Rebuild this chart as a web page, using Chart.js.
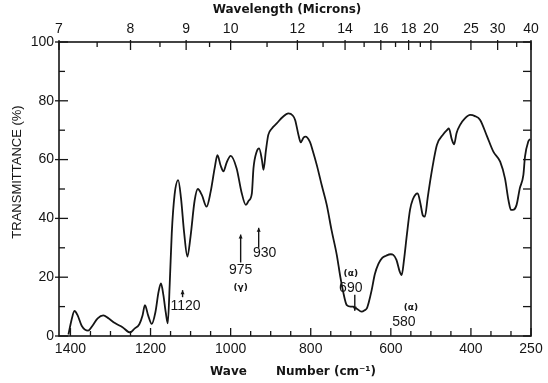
<!DOCTYPE html>
<html lang="en">
  <head>
    <meta charset="utf-8" />
    <title>IR Transmittance Spectrum</title>
    <script src="https://cdn.jsdelivr.net/npm/chart.js@4.4.1/dist/chart.umd.min.js"></script>
    <style>
      * {
        padding: 0;
        margin: 0;
        box-sizing: border-box;
      }
      body {
        background: #ffffff;
        width: 548px;
        height: 383px;
        overflow: hidden;
      }
    </style>
  </head>
  <body>
    <canvas id="spectrum" width="548" height="383"></canvas>

    <script>
      // trace: wave number (cm-1) against transmittance (%)
      const waveNumbers = [
        1405, 1398, 1390, 1382, 1372, 1356, 1345, 1332, 1318, 1305,
        1289, 1270, 1251, 1240, 1228, 1220, 1214, 1206, 1197, 1188,
        1180, 1174, 1168, 1162, 1157, 1152, 1147, 1140, 1131, 1124,
        1116, 1108, 1100, 1090, 1082, 1072, 1060, 1050, 1040, 1033,
        1025, 1018, 1010, 1000, 985, 973, 962, 955, 947, 943,
        935, 929, 922, 918, 912, 906, 897, 885, 870, 856,
        845, 839, 830, 825, 818, 813, 802, 795, 785, 772,
        760, 748, 735, 726, 719, 710, 700, 694, 685, 673,
        665, 660, 655, 648, 640, 631, 622, 612, 600, 594,
        586, 578, 573, 567, 560, 552, 545, 538, 533, 526,
        520, 515, 508, 502, 494, 485, 469, 460, 455, 448,
        442, 436, 427, 415, 402, 390, 377, 360, 344, 327,
        315, 306, 300, 293, 286, 278, 269, 265, 257, 252,
      ];
      const transmittance = [
        0.5, 5, 8.5, 7, 3.5, 1.8, 3.5, 6, 7, 6,
        4.4, 3, 1.2, 2.5, 4, 7, 10.5, 7, 4.1, 8,
        15, 17.9, 14, 8, 4.3, 18, 35, 48, 53, 47,
        35, 27, 34, 46, 50, 48, 44, 49, 57, 61.5,
        58, 56, 59, 61.3, 57, 49, 44.6, 46, 48.5, 57,
        62.7, 63.8, 60, 56.5, 63, 68.4, 70.6, 72.3, 74.5, 75.7,
        75, 73.5, 68, 65.9, 67.5, 67.8, 66, 63, 58.2, 51,
        44.6, 36, 27.6, 20, 15, 10.5, 10, 10, 9.3, 8.3,
        8.8, 9.4, 11.5, 15.5, 21, 24.5, 26.5, 27.3, 27.8, 27.6,
        25.9, 22, 20.7, 26, 34.4, 43, 46.5, 48.2, 48.5, 45,
        41, 40.6, 47, 52.5, 59, 65, 68.6, 70, 70.6, 67,
        65.2, 69, 71.8, 74, 75.2, 74.8, 73.5, 68, 62.7, 59.3,
        53.6, 46, 42.9, 43, 44.6, 50.2, 54.8, 61, 66.1, 67,
      ];

      // axis ticks
      const waveNumberLabels = [1400, 1200, 1000, 800, 600, 400, 250];
      const waveNumberTicks = [
        1400, 1350, 1300, 1250, 1200, 1150, 1100, 1050, 1000, 950, 900, 850,
        800, 750, 700, 650, 600, 550, 500, 450, 400, 350, 300, 250,
      ];
      const wavelengthLabels = [7, 8, 9, 10, 12, 14, 16, 18, 20, 25, 30, 40];
      const wavelengthMinor = [7.5, 8.5, 9.5, 11, 13, 15, 17, 19, 35];
      const transmittanceTicks = [0, 10, 20, 30, 40, 50, 60, 70, 80, 90, 100];

      // assigned bands written on the trace
      const bandValues = [1120, 975, 930, 690, 580];
      const bandPhases = ["", "(γ)", "", "(α)", "(α)"];

      const INK = "#151515";
      const tickFont = { family: "'Liberation Sans', Arial, sans-serif", size: 14 };

      // placement of each band note around its wave number
      const bandLayout = {
        1120: { arrow: [15.6, 13.2], head: "up", dx: 3, textY: 10.2 },
        975: { arrow: [34.5, 25], head: "up", dx: 0, textY: 22.4, phaseY: 16.6 },
        930: { arrow: [36.8, 30], head: "up", dx: 6, textY: 28.2 },
        690: { arrow: [14, 8.6], head: "down", dx: -4, textY: 16.2, phaseY: 21.3 },
        580: { dx: 5, textY: 4.8, phaseY: 9.6, phaseDx: 12 },
      };

      const frameAndNotes = {
        id: "frameAndNotes",
        afterDraw(chart) {
          const { ctx, chartArea: a, scales } = chart;
          const xs = scales.x;
          const ys = scales.y;
          const line = (x1, y1, x2, y2) => {
            ctx.beginPath();
            ctx.moveTo(x1, y1);
            ctx.lineTo(x2, y2);
            ctx.stroke();
          };

          ctx.save();
          ctx.strokeStyle = INK;
          ctx.fillStyle = INK;
          ctx.lineWidth = 1.6;
          ctx.strokeRect(a.left, a.top, a.width, a.height);

          // inward tick marks
          ctx.lineWidth = 1.3;
          waveNumberTicks.forEach((v) => {
            const px = xs.getPixelForValue(v);
            const len = waveNumberLabels.includes(v) ? 8 : 5;
            line(px, a.bottom, px, a.bottom - len);
          });
          wavelengthLabels.concat(wavelengthMinor).forEach((w) => {
            const px = xs.getPixelForValue(10000 / w);
            const major = wavelengthLabels.includes(w);
            line(px, a.top - (major ? 2 : 0), px, a.top + (major ? 8 : 5));
          });
          transmittanceTicks.forEach((t) => {
            const py = ys.getPixelForValue(t);
            const major = t % 20 === 0;
            line(a.left - (major ? 4 : 0), py, a.left + (major ? 9 : 6), py);
            line(a.right, py, a.right - 8, py);
          });

          // axis titles
          ctx.textBaseline = "middle";
          ctx.textAlign = "center";
          ctx.font = "bold 12px 'DejaVu Sans', sans-serif";
          ctx.fillText("Wavelength (Microns)", 287, 10);
          ctx.textAlign = "left";
          ctx.fillText("Wave", 210, 372);
          ctx.fillText("Number (cm⁻¹)", 276, 372);

          ctx.save();
          ctx.translate(17, 172);
          ctx.rotate(-Math.PI / 2);
          ctx.textAlign = "center";
          ctx.font = "13px 'Liberation Sans', Arial, sans-serif";
          ctx.fillText("TRANSMITTANCE (%)", 0, 0);
          ctx.restore();

          // band notes
          bandValues.forEach((v, i) => {
            const L = bandLayout[v];
            const px = xs.getPixelForValue(v);
            if (L.arrow) {
              const y1 = ys.getPixelForValue(L.arrow[0]);
              const y2 = ys.getPixelForValue(L.arrow[1]);
              ctx.lineWidth = 1.4;
              line(px, y1, px, y2);
              const tip = L.head === "up" ? y1 : y2;
              const dir = L.head === "up" ? 1 : -1;
              ctx.beginPath();
              ctx.moveTo(px, tip);
              ctx.lineTo(px - 2, tip + 4 * dir);
              ctx.lineTo(px + 2, tip + 4 * dir);
              ctx.closePath();
              ctx.fill();
            }
            ctx.textAlign = "center";
            ctx.font = "14px 'Liberation Sans', Arial, sans-serif";
            ctx.fillText(String(v), px + L.dx, ys.getPixelForValue(L.textY));
            if (bandPhases[i]) {
              ctx.font = "bold 9px 'DejaVu Sans', sans-serif";
              ctx.fillText(bandPhases[i], px + (L.phaseDx ?? L.dx), ys.getPixelForValue(L.phaseY));
            }
          });
          ctx.restore();
        },
      };

      const points = waveNumbers.map((v, i) => ({ x: v, y: transmittance[i] }));

      new Chart(document.getElementById("spectrum"), {
        type: "line",
        plugins: [frameAndNotes],
        data: {
          datasets: [
            {
              data: points,
              borderColor: INK,
              borderWidth: 1.8,
              pointRadius: 0,
              fill: false,
              cubicInterpolationMode: "monotone",
            },
          ],
        },
        options: {
          responsive: false,
          devicePixelRatio: 1,
          animation: false,
          layout: { padding: { left: 0, right: 17, top: 0, bottom: 0 } },
          plugins: { legend: { display: false }, tooltip: { enabled: false } },
          scales: {
            x: {
              type: "linear",
              position: "bottom",
              reverse: true,
              min: 250,
              max: 10000 / 7,
              afterBuildTicks: (s) => {
                s.ticks = waveNumberLabels.map((v) => ({ value: v }));
              },
              afterFit: (s) => {
                s.height = 47;
              },
              ticks: {
                autoSkip: false,
                maxRotation: 0,
                padding: 5,
                color: INK,
                font: tickFont,
                callback: (value) => String(value),
              },
              grid: { display: false, drawTicks: false },
              border: { display: false },
            },
            x2: {
              type: "linear",
              position: "top",
              reverse: true,
              min: 250,
              max: 10000 / 7,
              afterBuildTicks: (s) => {
                s.ticks = wavelengthLabels.map((w) => ({ value: 10000 / w }));
              },
              afterFit: (s) => {
                s.height = 42;
              },
              ticks: {
                autoSkip: false,
                maxRotation: 0,
                padding: 4,
                color: INK,
                font: tickFont,
                callback: (value) => String(Math.round(10000 / value)),
              },
              grid: { display: false, drawTicks: false },
              border: { display: false },
            },
            y: {
              min: 0,
              max: 100,
              afterFit: (s) => {
                s.width = 59;
              },
              ticks: { stepSize: 20, padding: 5, color: INK, font: tickFont },
              grid: { display: false, drawTicks: false },
              border: { display: false },
            },
          },
        },
      });
    </script>
  </body>
</html>
